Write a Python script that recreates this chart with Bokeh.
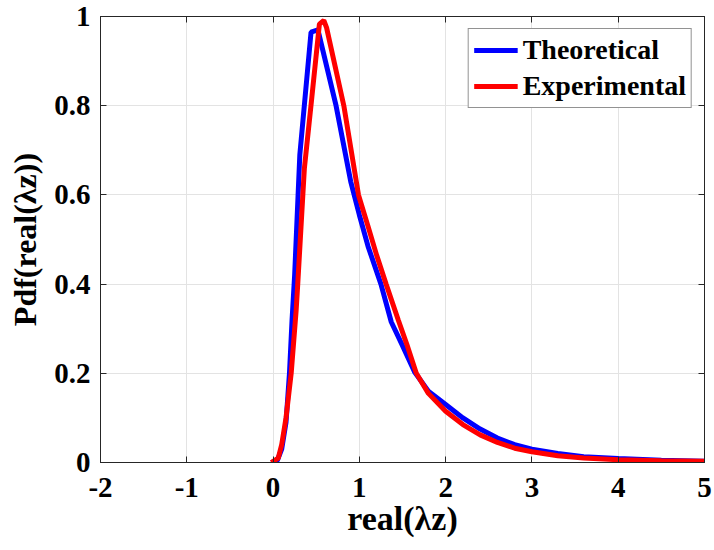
from bokeh.plotting import figure
from bokeh.models import LinearAxis, Legend, LegendItem, FixedTicker, Range1d
from bokeh.embed import file_html
from bokeh.resources import INLINE

# Theoretical pdf
theo_x = [-0.02, 0.05, 0.10, 0.15, 0.19, 0.22, 0.25, 0.29, 0.31, 0.44, 0.52,
          0.73, 0.90, 1.00, 1.10, 1.25, 1.37, 1.50, 1.64, 1.80, 2.00, 2.20,
          2.40, 2.60, 2.80, 3.00, 3.30, 3.60, 4.00, 4.50, 5.00]
theo_y = [0.000, 0.005, 0.030, 0.090, 0.200, 0.320, 0.420, 0.600, 0.690, 0.965, 0.970,
          0.800, 0.630, 0.555, 0.485, 0.400, 0.315, 0.262, 0.203, 0.160, 0.130, 0.100,
          0.075, 0.055, 0.040, 0.030, 0.020, 0.013, 0.009, 0.005, 0.003]

# Experimental pdf
exp_x = [-0.02, 0.06, 0.10, 0.15, 0.21, 0.267, 0.286, 0.345, 0.363, 0.45, 0.537,
         0.588, 0.62, 0.82, 0.99, 1.10, 1.20, 1.31, 1.45, 1.55, 1.66, 1.80,
         2.00, 2.20, 2.40, 2.60, 2.80, 3.00, 3.30, 3.60, 4.00, 4.50, 5.00]
exp_y = [0.000, 0.010, 0.040, 0.100, 0.200, 0.340, 0.400, 0.600, 0.660, 0.820, 0.983,
         0.991, 0.975, 0.800, 0.600, 0.530, 0.465, 0.400, 0.320, 0.265, 0.200, 0.155,
         0.115, 0.085, 0.062, 0.045, 0.032, 0.024, 0.015, 0.010, 0.006, 0.004, 0.003]

x_ticks = [-2, -1, 0, 1, 2, 3, 4, 5]
y_ticks = [0, 0.2, 0.4, 0.6, 0.8, 1]
x_tick_labels = {-2: "-2", -1: "-1", 0: "0", 1: "1", 2: "2", 3: "3", 4: "4", 5: "5"}
y_tick_labels = {0: "0", 0.2: "0.2", 0.4: "0.4", 0.6: "0.6", 0.8: "0.8", 1: "1"}

FONT = "Liberation Serif"

p = figure(width=714, height=550, output_backend="svg", toolbar_location=None,
           x_range=Range1d(-2, 5), y_range=Range1d(0, 1),
           min_border_left=100, min_border_right=10, min_border_top=16, min_border_bottom=88)
p.background_fill_color = "white"
p.border_fill_color = "white"
p.outline_line_color = "#262626"
p.outline_line_width = 1

for ax, ticks, labels in ((p.xaxis[0], x_ticks, x_tick_labels), (p.yaxis[0], y_ticks, y_tick_labels)):
    ax.ticker = FixedTicker(ticks=ticks)
    ax.major_label_overrides = labels
    ax.major_tick_in = 6
    ax.major_tick_out = 0
    ax.minor_tick_line_color = None
    ax.axis_line_color = "#262626"
    ax.major_tick_line_color = "#262626"
    ax.major_label_text_font = FONT
    ax.major_label_text_font_style = "bold"
    ax.major_label_text_font_size = "29px"
    ax.major_label_text_color = "black"
    ax.axis_label_text_font = FONT
    ax.axis_label_text_font_style = "bold"
    ax.axis_label_text_color = "black"

p.xaxis[0].axis_label = "real(λz)"
p.yaxis[0].axis_label = "Pdf(real(λz))"
p.xaxis[0].axis_label_text_font_size = "34px"
p.yaxis[0].axis_label_text_font_size = "32px"
p.xaxis[0].major_label_standoff = 15
p.yaxis[0].major_label_standoff = 10
p.xaxis[0].axis_label_standoff = 0
p.yaxis[0].axis_label_standoff = 8

# top and right box ticks
top = LinearAxis(ticker=FixedTicker(ticks=x_ticks), major_tick_in=6, major_tick_out=0,
                 minor_tick_line_color=None, major_label_text_font_size="0px",
                 axis_line_color="#262626", major_tick_line_color="#262626")
right = LinearAxis(ticker=FixedTicker(ticks=y_ticks), major_tick_in=6, major_tick_out=0,
                   minor_tick_line_color=None, major_label_text_font_size="0px",
                   axis_line_color="#262626", major_tick_line_color="#262626")
p.add_layout(top, "above")
p.add_layout(right, "right")

p.xgrid.ticker = FixedTicker(ticks=x_ticks)
p.ygrid.ticker = FixedTicker(ticks=y_ticks)
p.xgrid.grid_line_color = "#e3e3e3"
p.ygrid.grid_line_color = "#e3e3e3"

r1 = p.line(theo_x, theo_y, line_color="#0000ff", line_width=5)
r2 = p.line(exp_x, exp_y, line_color="#ff0000", line_width=5)

legend = Legend(items=[LegendItem(label="Theoretical", renderers=[r1]),
                       LegendItem(label="Experimental", renderers=[r2])],
                location="top_right")
legend.label_text_font = FONT
legend.label_text_font_style = "bold"
legend.label_text_font_size = "28px"
legend.label_text_color = "black"
legend.glyph_width = 44
legend.glyph_height = 30
legend.label_height = 30
legend.spacing = 4
legend.padding = 5
legend.margin = 12
legend.label_standoff = 5
legend.border_line_color = "#262626"
legend.border_line_width = 1
legend.background_fill_alpha = 1.0
p.add_layout(legend)

open("out.html", "w").write(file_html(p, INLINE))
